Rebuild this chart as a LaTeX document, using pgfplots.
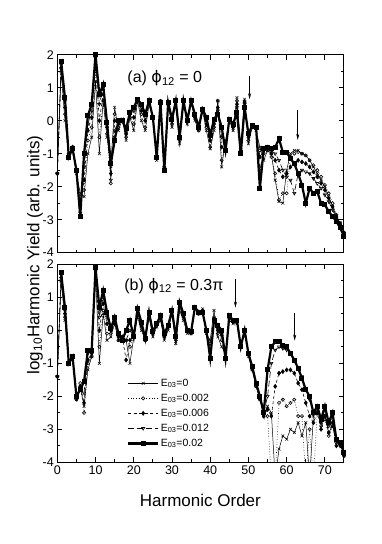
\documentclass[border=0pt]{standalone}
\usepackage{pgfplots}
\pgfplotsset{compat=1.18}
\usepackage{pgfplotstable}
\usepackage{fontspec}
\setmainfont{Liberation Sans}
\newfontfamily\greekphi{DejaVu Sans}
\usetikzlibrary{arrows.meta}

% columns: harmonic order, E03 = 0, 0.002, 0.006, 0.012, 0.02
\pgfplotstableread{
h a b c d e
0 -1.6 -1.6 -1.6 -1.6 -1.6
1 1.5 1.6 1.6 1.7 1.8
2 0.0 0.2 0.4 0.6 0.7
3 -1.1 -1.0 -1.0 -1.1 -1.1
4 -0.9 -0.9 -0.8 -0.8 -0.85
5 -1.6 -1.5 -1.5 -1.5 -1.5
6 -2.2 -2.3 -2.6 -2.8 -2.9
7 -2.3 -2.1 -1.8 -1.4 -1.0
8 -1.0 -0.6 -0.3 -0.1 0.15
9 -0.5 -0.2 0.1 0.3 0.5
10 1.2 1.5 1.7 1.9 2.0
11 -1.0 -0.5 0.0 0.5 0.8
12 0.6 0.6 0.8 1.0 1.1
13 -0.5 -0.4 -0.2 -0.1 -0.05
14 -1.3 -1.9 -1.6 -1.8 -1.3
15 0.4 0.2 0.0 -0.3 -0.6
16 -0.3 -0.2 -0.1 0.0 0.0
17 0.05 0.0 0.0 0.0 0.0
18 -0.6 -0.5 -0.4 -0.3 -0.25
19 0.1 0.1 0.2 0.2 0.25
20 -0.3 -0.1 0.1 0.3 0.4
21 0.6 0.6 0.6 0.65 0.65
22 0.0 0.2 0.3 0.4 0.5
23 -0.3 -0.2 0.0 0.1 0.2
24 0.5 0.5 0.55 0.6 0.6
25 0.1 0.1 0.1 0.1 0.1
26 -1.2 -1.1 -1.1 -1.1 -1.1
27 0.6 0.6 0.55 0.55 0.55
28 -1.5 -1.4 -1.4 -1.5 -1.5
29 0.5 0.5 0.55 0.55 0.55
30 -0.2 -0.1 0.0 0.0 0.05
31 0.6 0.6 0.6 0.6 0.6
32 -0.7 -0.6 -0.5 -0.5 -0.5
33 0.6 0.6 0.6 0.6 0.6
34 -0.1 0.0 0.0 0.0 0.0
35 0.6 0.6 0.6 0.6 0.6
36 0.0 0.1 0.1 0.2 0.2
37 -0.3 -0.3 -0.2 -0.2 -0.2
38 0.3 0.3 0.35 0.35 0.35
39 -0.3 -0.2 -0.1 0.0 0.1
40 -0.85 -0.8 -0.6 -0.5 -0.45
41 -0.3 -0.2 -0.1 0.0 0.05
42 0.6 0.6 0.4 0.3 0.2
43 -1.4 -1.2 -0.8 -0.5 -0.2
44 -0.6 -0.7 -0.8 -0.9 -0.9
45 0.0 0.0 0.05 0.05 0.05
46 -0.3 -0.2 -0.2 -0.1 -0.1
47 0.7 0.6 0.5 0.4 0.25
48 -0.8 -0.9 -0.9 -1.0 -1.0
49 0.65 0.6 0.55 0.5 0.4
50 -0.7 -0.6 -0.5 -0.45 -0.4
51 -0.2 -0.2 -0.15 -0.15 -0.15
52 -0.3 -0.25 -0.2 -0.2 -0.2
53 -0.8 -0.9 -1.1 -1.5 -2.05
54 -1.2 -1.0 -0.9 -0.9 -0.85
55 -0.9 -0.9 -0.8 -0.8 -0.8
56 -1.0 -1.1 -1.0 -0.9 -0.85
57 -1.8 -1.6 -1.2 -1.0 -0.8
58 -2.45 -2.4 -1.5 -1.2 -0.55
59 -2.5 -2.2 -1.7 -1.5 -0.95
60 -1.5 -2.2 -1.6 -1.7 -0.95
61 -1.0 -1.1 -1.4 -1.8 -1.15
62 -0.9 -1.0 -1.3 -2.2 -1.3
63 -0.9 -0.95 -1.2 -1.6 -1.6
64 -1.0 -1.0 -1.25 -1.5 -1.95
65 -1.05 -1.05 -1.3 -1.55 -2.5
66 -1.2 -1.2 -1.4 -1.6 -2.05
67 -1.4 -1.35 -1.55 -1.75 -2.2
68 -1.6 -1.5 -1.7 -1.9 -2.15
69 -1.8 -1.7 -1.9 -2.05 -2.5
70 -2.0 -1.95 -2.1 -2.25 -2.55
71 -2.3 -2.2 -2.35 -2.45 -2.75
72 -2.6 -2.5 -2.6 -2.7 -2.9
73 -2.9 -2.85 -2.9 -2.95 -3.05
74 -3.1 -3.1 -3.15 -3.2 -3.25
75 -3.4 -3.4 -3.4 -3.45 -3.5
}\toptab

\pgfplotstableread{
h a b c d e
0 -1.4 -1.4 -1.4 -1.4 -1.4
1 1.5 1.5 1.6 1.7 1.75
2 0.3 0.4 0.5 0.6 0.7
3 -1.0 -1.0 -1.0 -1.0 -1.0
4 -0.8 -0.8 -0.8 -0.8 -0.8
5 -2.1 -2.1 -2.05 -2.0 -2.0
6 -1.7 -1.6 -1.7 -1.8 -1.8
7 -2.3 -2.5 -2.2 -1.9 -1.55
8 -1.2 -1.0 -0.9 -0.7 -0.6
9 -0.8 -0.8 -0.7 -0.65 -0.6
10 1.7 1.8 1.85 1.9 1.9
11 -1.0 -0.5 0.0 0.4 0.7
12 0.5 0.6 0.8 1.0 1.2
13 -0.3 -0.1 0.2 0.4 0.55
14 -0.2 -0.1 0.0 0.0 0.05
15 0.2 0.2 0.3 0.35 0.4
16 -0.3 -0.3 -0.2 -0.15 -0.1
17 -0.2 -0.2 -0.2 -0.25 -0.3
18 -0.3 -0.3 -0.9 -0.3 0.0
19 -1.0 -0.5 -0.3 0.0 0.3
20 -0.2 -0.2 -0.2 -0.2 -0.2
21 0.4 0.45 0.5 0.6 0.65
22 0.0 0.1 0.15 0.2 0.25
23 -0.3 -0.3 -0.25 -0.25 -0.25
24 0.4 0.45 0.5 0.5 0.55
25 -0.2 -0.1 -0.1 -0.05 -0.05
26 0.1 0.15 0.2 0.2 0.2
27 0.3 0.35 0.4 0.45 0.45
28 -0.3 -0.2 -0.2 -0.1 -0.1
29 0.0 0.1 0.1 0.15 0.15
30 0.5 0.55 0.6 0.6 0.6
31 -0.4 -0.3 -0.2 -0.2 -0.2
32 0.6 0.7 0.8 0.85 0.85
33 0.3 0.4 0.45 0.5 0.5
34 -0.1 0.0 0.0 0.0 0.0
35 -0.1 -0.1 -0.05 -0.05 -0.05
36 0.7 0.7 0.7 0.7 0.7
37 0.5 0.5 0.55 0.55 0.55
38 0.65 0.6 0.55 0.55 0.55
39 -0.1 -0.05 0.0 0.0 0.0
40 -0.3 -0.4 -0.6 -0.8 -0.85
41 0.6 0.4 0.35 0.3 0.3
42 -0.2 -0.1 0.0 0.1 0.15
43 -0.5 -0.3 -0.15 -0.1 0.0
44 -0.7 -0.8 -0.8 -0.85 -0.85
45 0.3 0.35 0.4 0.45 0.45
46 0.2 0.25 0.3 0.3 0.3
47 0.2 0.25 0.3 0.3 0.3
48 -0.5 -0.5 -0.5 -0.5 -0.5
49 0.0 0.0 0.0 0.0 0.0
50 -0.8 -0.75 -0.7 -0.7 -0.7
51 -1.2 -1.2 -1.1 -1.1 -1.1
52 -1.7 -1.7 -1.6 -1.6 -1.6
53 -2.1 -2.1 -2.0 -2.0 -2.0
54 -2.6 -2.5 -2.6 -2.5 -2.5
55 -2.3 -2.6 -2.4 -2.0 -1.2
56 -2.5 -4.5 -2.6 -1.0 -0.5
57 -4.5 -4.5 -1.7 -0.6 -0.35
58 -3.6 -2.2 -1.3 -0.5 -0.35
59 -3.2 -2.1 -1.25 -0.55 -0.45
60 -3.3 -2.3 -1.2 -0.6 -0.5
61 -3.0 -2.2 -1.2 -0.7 -0.7
62 -3.1 -2.1 -1.3 -0.9 -0.9
63 -2.8 -2.6 -1.6 -1.15 -1.15
64 -3.2 -2.6 -1.8 -1.4 -1.45
65 -2.8 -4.5 -2.2 -1.8 -1.8
66 -4.5 -3.0 -2.6 -2.1 -2.0
67 -2.6 -4.5 -2.8 -2.5 -2.5
68 -2.3 -2.5 -2.5 -2.4 -2.3
69 -2.8 -2.9 -3.0 -2.8 -2.7
70 -2.6 -2.7 -2.6 -2.4 -2.3
71 -3.1 -3.2 -3.1 -2.9 -2.8
72 -2.9 -2.9 -2.8 -2.6 -2.5
73 -3.4 -3.4 -3.5 -3.3 -3.3
74 -3.4 -3.4 -3.5 -3.4 -3.4
75 -3.8 -3.8 -3.8 -3.7 -3.7
}\bottab

\pgfplotsset{
  hhg/.style={
    scale only axis, width=286.7pt, height=198pt,
    anchor=south west,
    xmin=0, xmax=75, ymin=-4, ymax=2,
    xtick={0,10,...,70}, minor x tick num=1,
    ytick={-4,-3,...,2}, minor y tick num=1,
    tick align=inside, major tick length=5pt, minor tick length=3pt,
    axis line style={line width=1pt},
    every tick/.style={black, line width=0.8pt},
    tick label style={font=\fontsize{12.5}{14}\selectfont},
    /pgf/number format/assume math mode=true,
  },
  s0/.style={black, line width=0.5pt, mark=x, mark size=2pt},
  s1/.style={black, line width=0.6pt, dotted, mark=o, mark size=1.6pt, mark options={solid}},
  s2/.style={black, line width=0.6pt, dash pattern=on 3pt off 2.5pt, mark=diamond*, mark size=2pt, mark options={solid}},
  s3/.style={black, line width=0.6pt, dash pattern=on 6pt off 3pt, mark=triangle, mark size=1.8pt, mark options={solid, rotate=180}},
  s4/.style={black, line width=2.2pt, mark=square*, mark size=1.4pt, mark options={solid}},
}

\begin{document}
\begin{tikzpicture}
\path (0pt,0pt) rectangle (382pt,544pt);

\begin{axis}[hhg, at={(57.3pt,291.3pt)}, xticklabels={}]
\addplot[s0] table[x=h, y=a] {\toptab};
\addplot[s1] table[x=h, y=b] {\toptab};
\addplot[s2] table[x=h, y=c] {\toptab};
\addplot[s3] table[x=h, y=d] {\toptab};
\addplot[s4, skip coords between index={0}{1}] table[x=h, y=e] {\toptab};
\node[anchor=west, inner sep=0pt, font=\fontsize{16}{18}\selectfont] at (axis cs:18.3,1.29) {(a) {\greekphi ϕ}\textsubscript{12} = 0};
\draw[-{Stealth[length=6pt,width=3pt]}, line width=0.6pt] (axis cs:50.3,1.35) -- (axis cs:50.3,0.65);
\draw[-{Stealth[length=6pt,width=3pt]}, line width=0.6pt] (axis cs:62.9,0.32) -- (axis cs:62.9,-0.58);
\end{axis}

\begin{axis}[hhg, at={(57.3pt,81.7pt)},
  legend cell align=left,
  legend style={draw=none, fill=none, at={(axis cs:18.2,-1.42)}, anchor=north west,
    font=\fontsize{10.5}{12}\selectfont, row sep=3.2pt, inner sep=0pt,
    nodes={inner sep=1.5pt}},
  legend image code/.code={\draw[mark repeat=2, mark phase=2] plot coordinates {(0pt,0pt) (15pt,0pt) (30pt,0pt)};},
]
\addplot[s0] table[x=h, y=a] {\bottab};
\addlegendentry{E\textsubscript{03}=0}
\addplot[s1] table[x=h, y=b] {\bottab};
\addlegendentry{E\textsubscript{03}=0.002}
\addplot[s2] table[x=h, y=c] {\bottab};
\addlegendentry{E\textsubscript{03}=0.006}
\addplot[s3] table[x=h, y=d] {\bottab};
\addlegendentry{E\textsubscript{03}=0.012}
\addplot[s4, skip coords between index={0}{1}] table[x=h, y=e] {\bottab};
\addlegendentry{E\textsubscript{03}=0.02}
\node[anchor=west, inner sep=0pt, font=\fontsize{16}{18}\selectfont] at (axis cs:17.5,1.35) {(b) {\greekphi ϕ}\textsubscript{12} = 0.3π};
\draw[-{Stealth[length=6pt,width=3pt]}, line width=0.6pt] (axis cs:46.6,1.55) -- (axis cs:46.6,0.69);
\draw[-{Stealth[length=6pt,width=3pt]}, line width=0.6pt] (axis cs:62.1,0.51) -- (axis cs:62.1,-0.31);
\end{axis}

\node[rotate=90, font=\fontsize{17}{20}\selectfont] at (35pt,289pt) {log\textsubscript{10}Harmonic Yield (arb. units)};
\node[font=\fontsize{17}{20}\selectfont] at (200.4pt,44pt) {Harmonic Order};
\end{tikzpicture}
\end{document}
